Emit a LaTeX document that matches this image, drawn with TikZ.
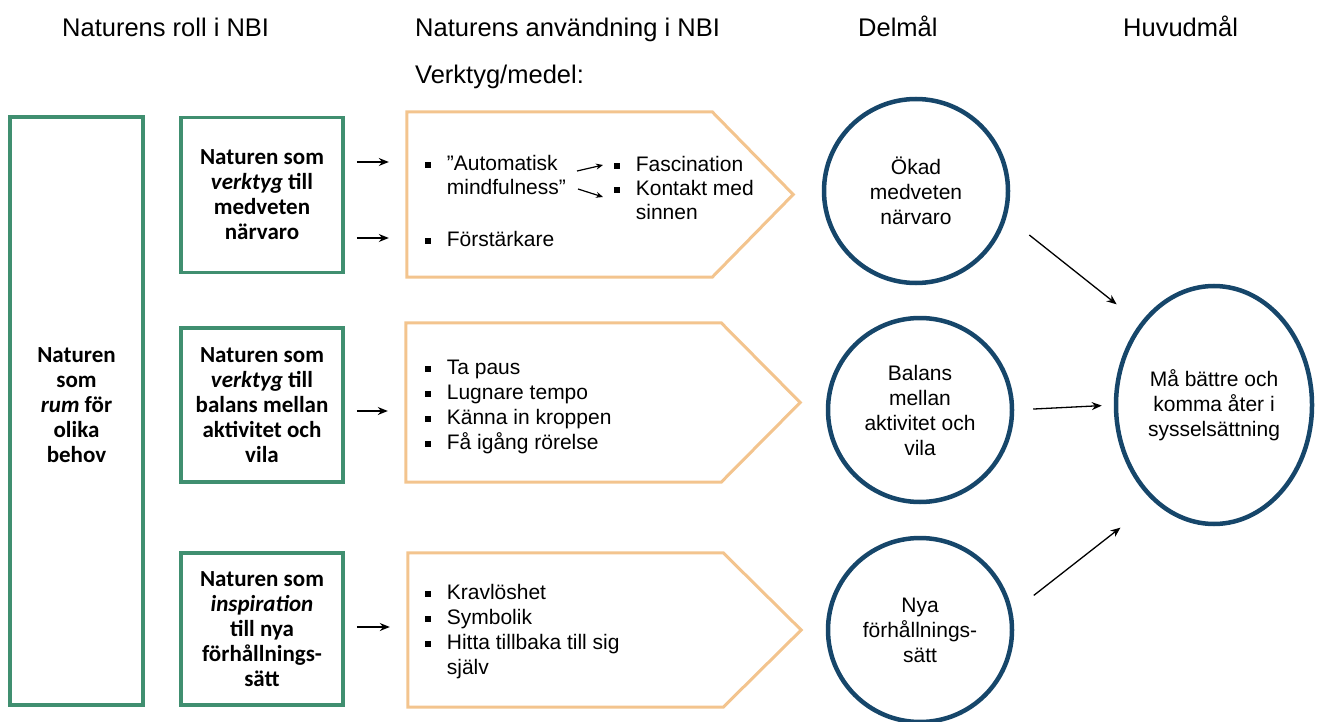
\documentclass[tikz,border=0pt]{standalone}
\usepackage{fontspec}
\setmainfont{Liberation Sans}
\newfontfamily\boxfont{Carlito}
\usetikzlibrary{calc,arrows.meta,shapes.geometric}
\definecolor{natgreen}{RGB}{64,143,112}
\definecolor{tanline}{RGB}{243,196,142}
\definecolor{goalblue}{RGB}{22,70,106}
\newcommand\sqb{\rule[0.13em]{0.27em}{0.27em}}
\newcommand\blist[1]{\begin{tabular}{@{}l@{\hspace{16pt}}l@{}}#1\end{tabular}}
\begin{document}
\begin{tikzpicture}[x=1pt,y=-1pt,
  head/.style={anchor=base west, inner sep=0pt, font=\fontsize{25.5}{30}\selectfont},
  rolebox/.style={draw=natgreen, line width=3.5pt, minimum width=162pt, minimum height=155pt,
    inner sep=0pt, align=center, font={\boxfont\bfseries\fontsize{23}{25}\selectfont}},
  chevbase/.style={minimum width=#1, inner sep=0pt},
  chevline/.style={draw=tanline, line width=3pt, line join=miter},
  listtext/.style={anchor=west, inner sep=0pt, font=\fontsize{21}{24}\selectfont},
  widelist/.style={listtext, font=\fontsize{21}{25}\selectfont},
  goalcirc/.style={circle, draw=goalblue, line width=4.5pt, minimum size=184pt, inner sep=0pt,
    align=center, font=\fontsize{21}{25}\selectfont},
  arr/.style={-{Stealth[length=10pt,width=8pt]}, line width=1.3pt},
  smallarr/.style={-{Stealth[length=7pt,width=6pt]}, line width=1.2pt}]
\useasboundingbox (0,0) rectangle (1317,722);

% column headings
\node[head] (h1) at (62,37) {Naturens roll i NBI};
\node[head] (h2) at (415,37) {Naturens användning i NBI};
\node[head] (h3) at (858,37) {Delmål};
\node[head] (h4) at (1123,37) {Huvudmål};
\node[head] (h5) at (415,84) {Verktyg/medel:};

% the role of nature
\node[rolebox, minimum width=133pt, minimum height=588pt] (room) at (76.5,411) {};
\node[align=center, inner sep=0pt, font={\boxfont\bfseries\fontsize{23}{25}\selectfont}] (roomtxt) at (76.5,405)
  {Naturen\\som\\\textit{rum} för\\olika\\behov};
\node[rolebox] (box1) at (262,195) {Naturen som\\\textit{verktyg} till\\medveten\\närvaro};
\node[rolebox, minimum height=154pt] (box2) at (262,405) {Naturen som\\\textit{verktyg} till\\balans mellan\\aktivitet och\\vila};
\node[rolebox, minimum height=152pt] (box3) at (262,629) {Naturen som\\\textit{inspiration}\\till nya\\förhållnings-\\sätt};

% tool chevrons
\node[chevbase=386pt, minimum height=165pt] (ch1) at (600,194.5) {};
\node[chevbase=394pt, minimum height=159pt] (ch2) at (603,402.5) {};
\node[chevbase=393pt, minimum height=154pt] (ch3) at (604.5,630) {};
\draw[chevline] (ch1.north west) -- ([xshift=-81pt]ch1.north east) -- (ch1.east)
  -- ([xshift=-81pt]ch1.south east) -- (ch1.south west) -- cycle;
\draw[chevline] (ch2.north west) -- ([xshift=-79pt]ch2.north east) -- (ch2.east)
  -- ([xshift=-79pt]ch2.south east) -- (ch2.south west) -- cycle;
\draw[chevline] (ch3.north west) -- ([xshift=-78pt]ch3.north east) -- (ch3.east)
  -- ([xshift=-78pt]ch3.south east) -- (ch3.south west) -- cycle;

% chevron contents
\node[listtext] (l1a) at (425,178) {\blist{\sqb & ”Automatisk\\ & mindfulness”}};
\node[listtext] (l1b) at (425,242) {\blist{\sqb & Förstärkare}};
\node[listtext] (r1) at (614,191) {\blist{\sqb & Fascination\\\sqb & Kontakt med\\ & sinnen}};
\node[widelist] (l2) at (425,407) {\blist{\sqb & Ta paus\\\sqb & Lugnare tempo\\\sqb & Känna in kroppen\\\sqb & Få igång rörelse}};
\node[widelist] (l3) at (425,632) {\blist{\sqb & Kravlöshet\\\sqb & Symbolik\\\sqb & Hitta tillbaka till sig\\ & själv}};
\coordinate (s1) at (577,171);
\coordinate (e1) at (603,165);
\coordinate (s2) at (578,189);
\coordinate (e2) at (603,197);
\draw[smallarr] (s1) -- (e1);
\draw[smallarr] (s2) -- (e2);

% arrows from roles to tools
\draw[arr, shorten <=12pt, shorten >=18pt] ([yshift=33pt]box1.east) -- ([yshift=33pt]box1.east -| ch1.west);
\draw[arr, shorten <=12pt, shorten >=18pt] ([yshift=-43pt]box1.east) -- ([yshift=-43pt]box1.east -| ch1.west);
\draw[arr, shorten <=12pt, shorten >=18pt] ([yshift=-6pt]box2.east) -- ([yshift=-6pt]box2.east -| ch2.west);
\draw[arr, shorten <=12pt, shorten >=18pt] ([yshift=2pt]box3.east) -- ([yshift=2pt]box3.east -| ch3.west);

% sub-goals and main goal
\node[goalcirc] (c1) at (916,191) {Ökad\\medveten\\närvaro};
\node[goalcirc] (c2) at (920,410) {Balans\\mellan\\aktivitet och\\vila};
\node[goalcirc] (c3) at (920,630) {Nya\\förhållnings-\\sätt};
\node[ellipse, draw=goalblue, line width=4.5pt, minimum width=196pt, minimum height=238pt,
  inner sep=0pt, align=center, font=\fontsize{21}{25}\selectfont] (goal) at (1214,405)
  {Må bättre och\\komma åter i\\sysselsättning};

\draw[arr, shorten <=29pt, shorten >=30pt] (c1.-16) -- (goal.132);
\draw[arr, shorten <=19pt, shorten >=12pt] (c2.east) -- (goal.west);
\draw[arr, shorten <=27pt, shorten >=42pt] (c3.11) -- (goal.-122);
\end{tikzpicture}
\end{document}
